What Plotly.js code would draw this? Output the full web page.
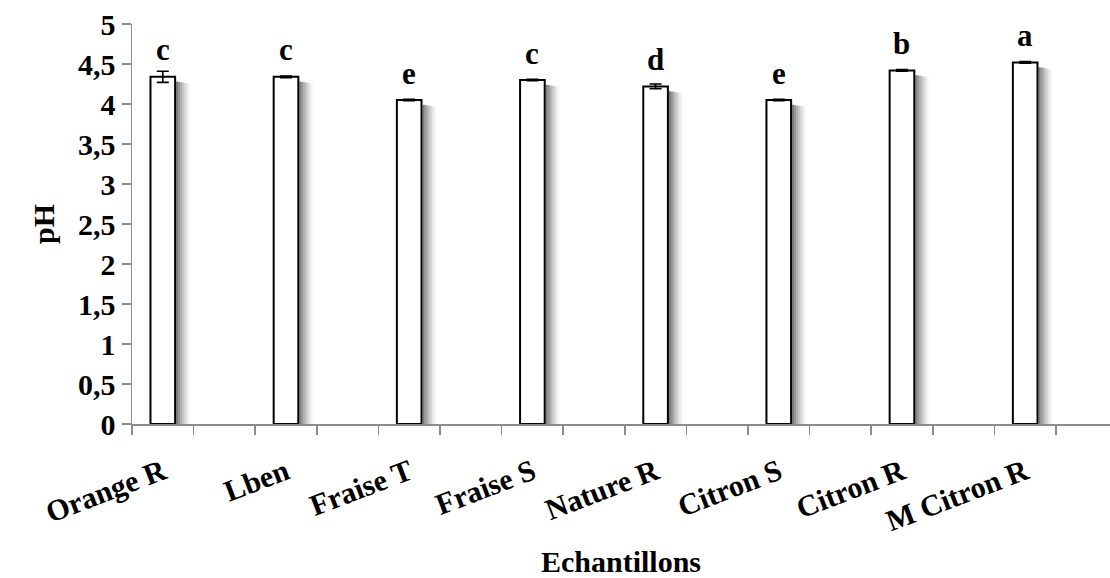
<!DOCTYPE html>
<html>
<head>
<meta charset="utf-8">
<script src="https://cdn.plot.ly/plotly-3.0.1.min.js"></script>
<style>
  html, body { margin: 0; padding: 0; background: #ffffff; }
  #chart { width: 1110px; height: 578px; }
  /* every label of the chart in the bold serif face */
  #chart svg text {
    font-family: "Liberation Serif", "Times New Roman", Tinos, "DejaVu Serif", serif !important;
    font-weight: bold !important;
  }
</style>
</head>
<body>
<div id="chart"></div>
<script>
// pH of each yoghurt / lben sample, mean ± standard deviation
const categories = ['Orange R', 'Lben', 'Fraise T', 'Fraise S', 'Nature R', 'Citron S', 'Citron R', 'M Citron R'];
const phValues = [4.34, 4.34, 4.05, 4.30, 4.22, 4.05, 4.42, 4.52];
const phErrors = [0.07, 0.01, 0.01, 0.01, 0.03, 0.01, 0.01, 0.01];
// letters from the mean comparison test
const groupLetters = ['c', 'c', 'e', 'c', 'd', 'e', 'b', 'a'];

// each sample occupies every other slot along the category axis
const slotPos = categories.map((_, i) => i * 2);
const slotEdges = [];
for (let k = 0; k <= categories.length * 2 - 1; k++) slotEdges.push(k - 0.5);

const FONT = 'Liberation Serif';
const AXIS_GREY = '#8c8c8c';
const xRange = [-0.5, 15.377];
const BAR_W = 0.4;
const PX = 1 / 61.6;             // one pixel in x data units
const txt = (size) => ({ family: FONT, size: size, color: '#000000', weight: 'bold' });

// soft shadow to the right of each bar: thin strips fading out
const shadowTraces = [];
const STRIPS = 7;
for (let k = 0; k < STRIPS; k++) {
  const a = 0.72 * Math.pow(1 - k / STRIPS, 1.5);
  shadowTraces.push({
    type: 'bar', x: slotPos, y: phValues.map(v => v - 0.06 - 0.004 * k),
    width: 2 * PX, offset: BAR_W / 2 + (1 + 2 * k) * PX,
    marker: { color: `rgba(70,70,70,${a.toFixed(3)})`, line: { width: 0 } },
    hoverinfo: 'skip'
  });
}

const bars = {
  type: 'bar',
  x: slotPos,
  y: phValues,
  width: BAR_W,
  marker: { color: '#ffffff', line: { color: '#000000', width: 2 } },
  error_y: { type: 'data', array: phErrors, visible: true, color: '#000000', thickness: 1.6, width: 6 },
  hoverinfo: 'x+y'
};

const letterNotes = slotPos.map((p, i) => ({
  x: p, y: phValues[i], xref: 'x', yref: 'y',
  text: groupLetters[i], showarrow: false,
  yanchor: 'middle', yshift: 27,
  font: txt(31)
}));

const layout = {
  width: 1110, height: 578,
  margin: { l: 132, r: 0, t: 24, b: 154 },
  paper_bgcolor: '#ffffff', plot_bgcolor: '#ffffff',
  separators: ', ',
  showlegend: false,
  barmode: 'overlay',
  font: txt(30),
  xaxis: {
    range: xRange,
    tickvals: slotPos, ticktext: categories,
    tickangle: -21, ticks: '', ticklabelstandoff: 24,
    showline: false, showgrid: false, zeroline: false,
    tickfont: txt(30),
    title: { text: 'Echantillons', standoff: 22, font: txt(30) }
  },
  xaxis2: {
    overlaying: 'x', anchor: 'y', side: 'bottom',
    range: xRange,
    tickvals: slotEdges, showticklabels: false,
    ticks: 'outside', ticklen: 9, tickwidth: 1.5, tickcolor: AXIS_GREY,
    showline: true, linecolor: AXIS_GREY, linewidth: 1.5,
    showgrid: false, zeroline: false
  },
  yaxis: {
    range: [0, 5], dtick: 0.5,
    ticks: 'outside', ticklen: 9, tickwidth: 1.5, tickcolor: AXIS_GREY,
    showline: true, linecolor: AXIS_GREY, linewidth: 1.5,
    showgrid: false, zeroline: false,
    tickfont: txt(30),
    title: { text: 'pH', standoff: 14, font: txt(30) }
  },
  annotations: letterNotes
};

// invisible trace so the second x axis (slot tick marks) is drawn
const edgeTrace = { type: 'scatter', x: [xRange[0]], y: [0], xaxis: 'x2', mode: 'none', hoverinfo: 'skip' };

const traces = [...shadowTraces, bars, edgeTrace];
const config = { staticPlot: true, displayModeBar: false };

Plotly.newPlot('chart', traces, layout, config);
</script>
</body>
</html>
